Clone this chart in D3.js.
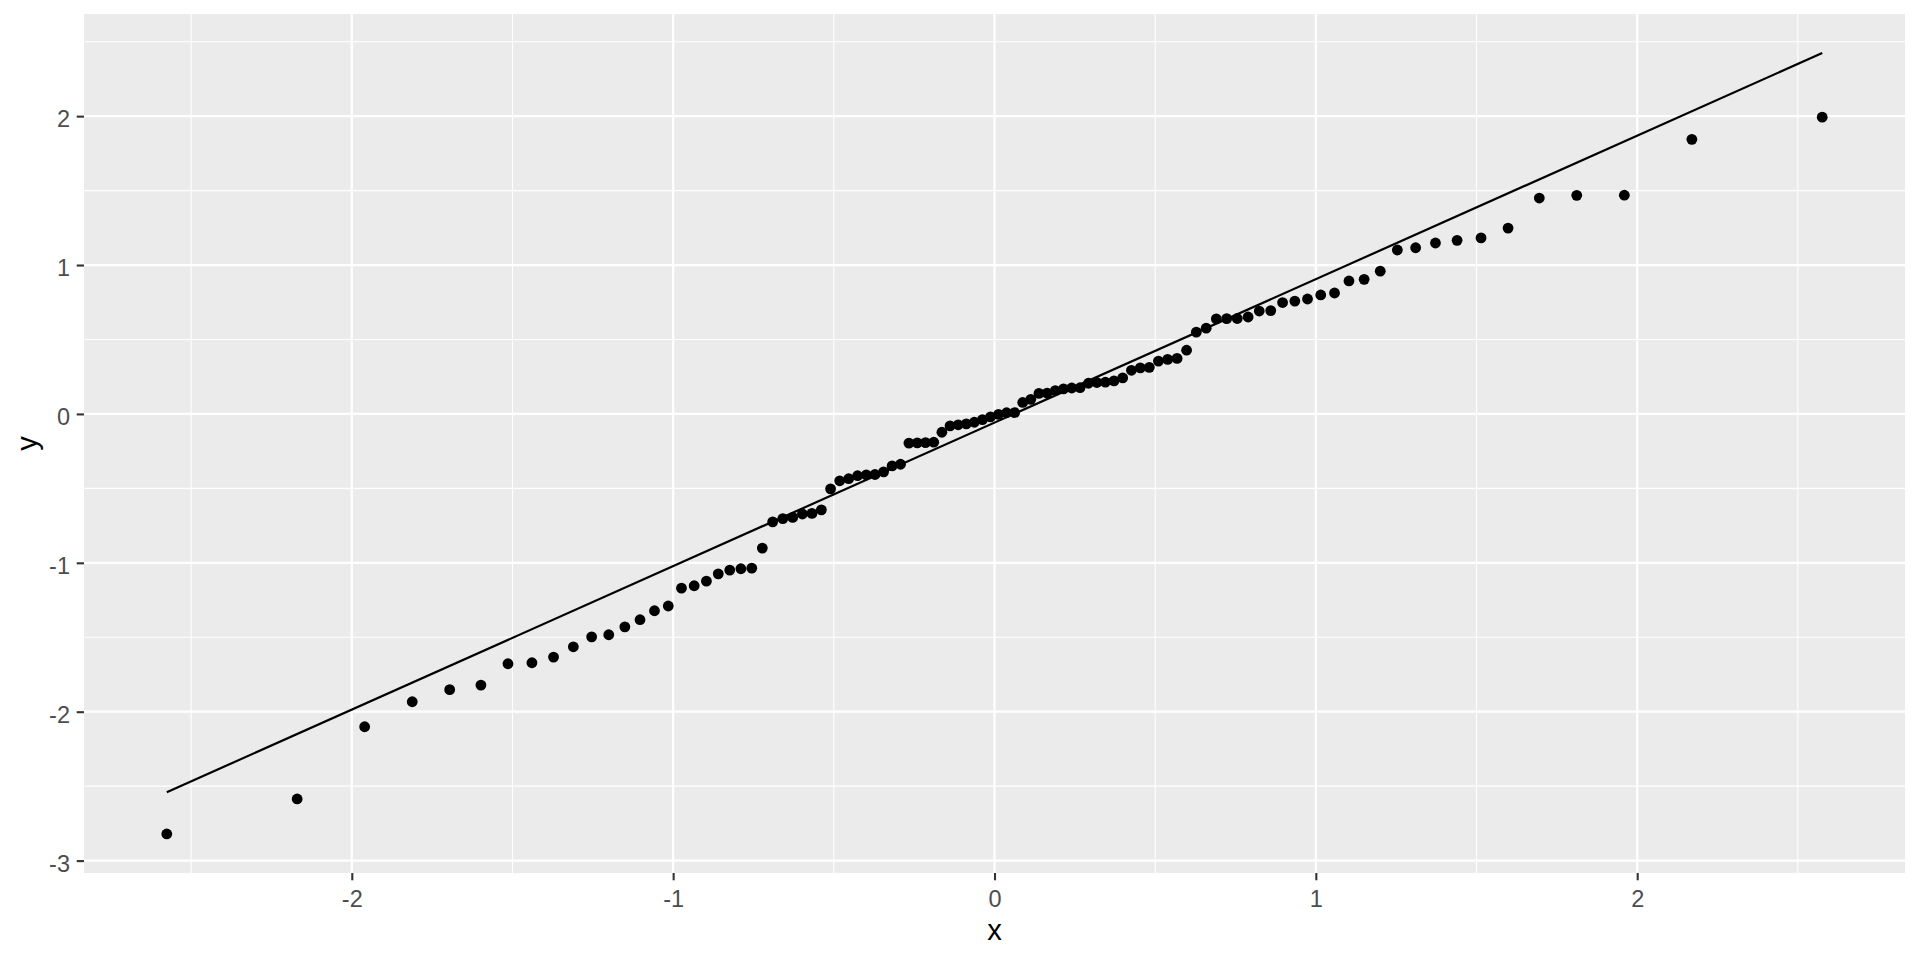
<!DOCTYPE html>
<html>
<head>
<meta charset="utf-8">
<script src="https://cdn.jsdelivr.net/npm/d3@7"></script>
<style>
  html, body { margin: 0; padding: 0; background: #fff; }
  svg { display: block; font-family: "Liberation Sans", Arial, sans-serif; }
</style>
</head>
<body>
<svg id="chart" width="1920" height="960"></svg>
<script>
// Theoretical normal quantiles (sample x)
const theoretical = [
  -2.5758, -2.1701, -1.9600, -1.8119, -1.6954, -1.5982, -1.5141, -1.4395, -1.3722, -1.3106,
  -1.2536, -1.2004, -1.1503, -1.1031, -1.0581, -1.0152, -0.9741, -0.9346, -0.8965, -0.8596,
  -0.8239, -0.7892, -0.7554, -0.7225, -0.6903, -0.6588, -0.6280, -0.5978, -0.5681, -0.5388,
  -0.5101, -0.4817, -0.4538, -0.4261, -0.3989, -0.3719, -0.3451, -0.3186, -0.2924, -0.2663,
  -0.2404, -0.2147, -0.1891, -0.1637, -0.1383, -0.1130, -0.0878, -0.0627, -0.0376, -0.0125,
   0.0125,  0.0376,  0.0627,  0.0878,  0.1130,  0.1383,  0.1637,  0.1891,  0.2147,  0.2404,
   0.2663,  0.2924,  0.3186,  0.3451,  0.3719,  0.3989,  0.4261,  0.4538,  0.4817,  0.5101,
   0.5388,  0.5681,  0.5978,  0.6280,  0.6588,  0.6903,  0.7225,  0.7554,  0.7892,  0.8239,
   0.8596,  0.8965,  0.9346,  0.9741,  1.0152,  1.0581,  1.1031,  1.1503,  1.2004,  1.2536,
   1.3106,  1.3722,  1.4395,  1.5141,  1.5982,  1.6954,  1.8119,  1.9600,  2.1701,  2.5758
];
// Sorted sample values (y)
const sample = [
  -2.821, -2.586, -2.101, -1.933, -1.852, -1.821, -1.678, -1.671, -1.633, -1.564,
  -1.497, -1.483, -1.430, -1.382, -1.322, -1.290, -1.170, -1.154, -1.123, -1.074,
  -1.049, -1.040, -1.036, -0.901, -0.725, -0.703, -0.695, -0.672, -0.668, -0.644,
  -0.503, -0.449, -0.435, -0.415, -0.409, -0.407, -0.389, -0.349, -0.338, -0.196,
  -0.194, -0.193, -0.190, -0.123, -0.080, -0.073, -0.067, -0.056, -0.038, -0.020,
  -0.003,  0.008,  0.009,  0.077,  0.098,  0.138,  0.140,  0.157,  0.168,  0.174,
   0.176,  0.206,  0.211,  0.213,  0.222,  0.242,  0.293,  0.309,  0.313,  0.355,
   0.366,  0.373,  0.428,  0.549,  0.576,  0.638,  0.640,  0.641,  0.651,  0.691,
   0.694,  0.748,  0.758,  0.772,  0.799,  0.812,  0.893,  0.904,  0.959,  1.101,
   1.116,  1.148,  1.166,  1.182,  1.248,  1.450,  1.468,  1.469,  1.844,  1.993
];
const xTicks = [-2, -1, 0, 1, 2];
const xTickLabels = ["-2", "-1", "0", "1", "2"];
const xMinor = [-2.5, -1.5, -0.5, 0.5, 1.5, 2.5];
const yTicks = [-3, -2, -1, 0, 1, 2];
const yTickLabels = ["-3", "-2", "-1", "0", "1", "2"];
const yMinor = [-2.5, -1.5, -0.5, 0.5, 1.5, 2.5];
const quartileProbs = [0.25, 0.75];
const normQuartiles = [-0.6745, 0.6745];
const xTitle = "x";
const yTitle = "y";

// Layout
const panel = { left: 84, right: 1905, top: 14, bottom: 873 };
const svg = d3.select("#chart");

// qq line (as ggplot stat_qq_line)
const q1 = d3.quantile(sample, quartileProbs[0]);
const q3 = d3.quantile(sample, quartileProbs[1]);
const slope = (q3 - q1) / (normQuartiles[1] - normQuartiles[0]);
const intercept = q1 - slope * normQuartiles[0];
const xExt = d3.extent(theoretical);
const linePts = xExt.map(x => [x, intercept + slope * x]);

// domains with 5% expansion
function expand(ext) { const r = ext[1] - ext[0]; return [ext[0] - 0.05 * r, ext[1] + 0.05 * r]; }
const yExt = d3.extent(sample.concat(linePts.map(d => d[1])));
const x = d3.scaleLinear().domain(expand(xExt)).range([panel.left, panel.right]);
const y = d3.scaleLinear().domain(expand(yExt)).range([panel.bottom, panel.top]);

svg.append("rect").attr("x", 0).attr("y", 0).attr("width", 1920).attr("height", 960).attr("fill", "#fff");
svg.append("rect")
  .attr("x", panel.left).attr("y", panel.top)
  .attr("width", panel.right - panel.left).attr("height", panel.bottom - panel.top)
  .attr("fill", "#EBEBEB");

const grid = svg.append("g");
grid.selectAll(".xminor").data(xMinor).enter().append("line")
  .attr("x1", d => x(d)).attr("x2", d => x(d)).attr("y1", panel.top).attr("y2", panel.bottom)
  .attr("stroke", "#fff").attr("stroke-width", 1.1);
grid.selectAll(".yminor").data(yMinor).enter().append("line")
  .attr("y1", d => y(d)).attr("y2", d => y(d)).attr("x1", panel.left).attr("x2", panel.right)
  .attr("stroke", "#fff").attr("stroke-width", 1.1);
grid.selectAll(".xmajor").data(xTicks).enter().append("line")
  .attr("x1", d => x(d)).attr("x2", d => x(d)).attr("y1", panel.top).attr("y2", panel.bottom)
  .attr("stroke", "#fff").attr("stroke-width", 2.2);
grid.selectAll(".ymajor").data(yTicks).enter().append("line")
  .attr("y1", d => y(d)).attr("y2", d => y(d)).attr("x1", panel.left).attr("x2", panel.right)
  .attr("stroke", "#fff").attr("stroke-width", 2.2);

// qq line
svg.append("path")
  .attr("d", d3.line().x(d => x(d[0])).y(d => y(d[1]))(linePts))
  .attr("fill", "none").attr("stroke", "#000").attr("stroke-width", 2.2);

// points
svg.append("g").selectAll("circle").data(d3.zip(theoretical, sample)).enter().append("circle")
  .attr("cx", d => x(d[0])).attr("cy", d => y(d[1])).attr("r", 5.4).attr("fill", "#000");

// axes
const xAxis = d3.axisBottom(x).tickValues(xTicks).tickFormat((d, i) => xTickLabels[i])
  .tickSizeInner(7.3).tickSizeOuter(0).tickPadding(5.9);
const gx = svg.append("g").attr("transform", `translate(0,${panel.bottom})`).call(xAxis);
gx.select(".domain").remove();
gx.selectAll(".tick line").attr("stroke", "#333333").attr("stroke-width", 2.1);
gx.selectAll(".tick text").attr("fill", "#4D4D4D").attr("font-size", 23.5)
  .attr("font-family", "Liberation Sans, Arial, sans-serif")
  .attr("y", 33.5).attr("dy", null);

const yAxis = d3.axisLeft(y).tickValues(yTicks).tickFormat((d, i) => yTickLabels[i])
  .tickSizeInner(7.3).tickSizeOuter(0).tickPadding(5.9);
const gy = svg.append("g").attr("transform", `translate(${panel.left},0)`).call(yAxis);
gy.select(".domain").remove();
gy.selectAll(".tick line").attr("stroke", "#333333").attr("stroke-width", 2.1);
gy.selectAll(".tick text").attr("fill", "#4D4D4D").attr("font-size", 23.5)
  .attr("font-family", "Liberation Sans, Arial, sans-serif")
  .attr("x", -14).attr("dy", null).attr("y", 10.7);

// titles
svg.append("text").attr("x", (panel.left + panel.right) / 2).attr("y", 940)
  .attr("text-anchor", "middle").attr("font-size", 29.3).attr("fill", "#000").text(xTitle);
svg.append("text")
  .attr("transform", `translate(37,${(panel.top + panel.bottom) / 2}) rotate(-90)`)
  .attr("text-anchor", "middle").attr("font-size", 29.3).attr("fill", "#000").text(yTitle);
</script>
</body>
</html>
